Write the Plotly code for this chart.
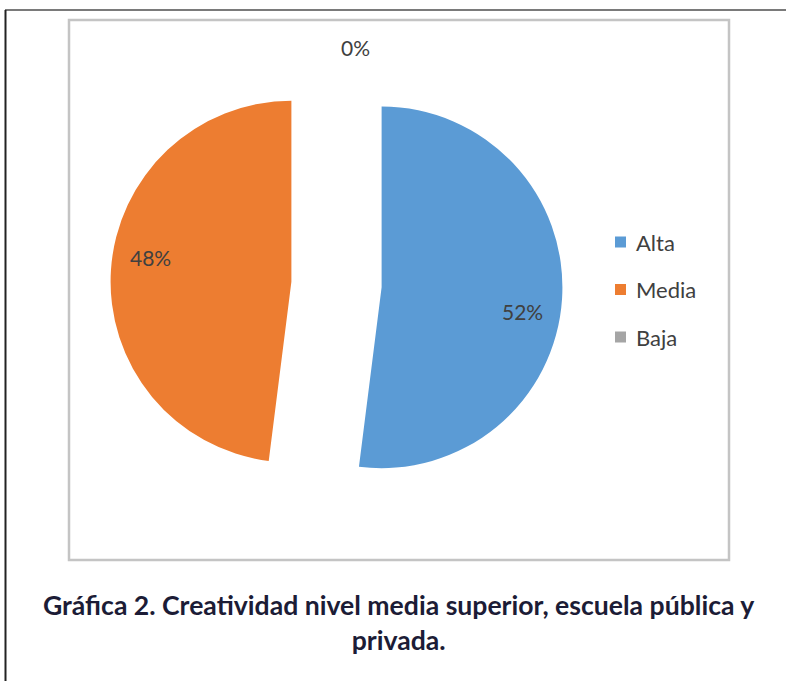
import math
import plotly.graph_objects as go

labels = ["Alta", "Media", "Baja"]
values = [52, 48, 0]
colors = ["#5B9BD5", "#ED7D31", "#A5A5A5"]
pulls = [0.25, 0.25, 0.0]
caption = "Gráfica 2. Creatividad nivel media superior, escuela pública y<br>privada."

W, H = 786, 681
total = sum(values)
texts = [f"{round(100*v/total)}%" for v in values]

# pie box in pixels (center and size); plotly radius = size / (2 + 2*maxpull)
CX, CY, SIZE = 336.5, 284.5, 452
R = SIZE / (2 + 2 * max(pulls))

fig = go.Figure()
fig.add_trace(go.Pie(
    labels=labels, values=values, pull=pulls,
    marker=dict(colors=colors, line=dict(width=0)),
    sort=False, direction="clockwise", rotation=0,
    textinfo="none",
    domain=dict(x=[(CX-SIZE/2)/W, (CX+SIZE/2)/W], y=[(H-CY-SIZE/2)/H, (H-CY+SIZE/2)/H]),
    showlegend=False, hoverinfo="label+percent",
))

shapes = []
annotations = []
# page lines
shapes.append(dict(type="line", xref="paper", yref="paper", x0=5/W, x1=1, y0=1-10/H, y1=1-10/H,
                   line=dict(color="#7a7a7a", width=2)))
shapes.append(dict(type="line", xref="paper", yref="paper", x0=5.5/W, x1=5.5/W, y0=0, y1=1-10/H,
                   line=dict(color="#222222", width=2)))
# chart box
shapes.append(dict(type="rect", xref="paper", yref="paper", x0=69/W, x1=729/W, y0=1-560/H, y1=1-20/H,
                   line=dict(color="#c4c4c4", width=2.5)))

# data labels positioned from slice angles
lab_font = dict(family="Lato", size=21, color="#404040")
cum = 0
for lab, v, t, p in zip(labels, values, texts, pulls):
    a0 = cum / total * 360
    cum += v
    a1 = cum / total * 360
    mid = math.radians((a0 + a1) / 2)
    cx = CX + p * R * math.sin(mid)
    cy = CY - p * R * math.cos(mid)
    if v > 0:
        ang = mid + math.radians(6)
        x = cx + 0.79 * R * math.sin(ang)
        y = cy - 0.79 * R * math.cos(ang)
    else:
        x = cx + 19
        y = cy - 1.31 * R
    annotations.append(dict(x=x/W, y=1-y/H, xref="paper", yref="paper", text=t,
                            showarrow=False, xanchor="center", yanchor="middle", font=lab_font))

# manual legend
for i, (lab, c) in enumerate(zip(labels, colors)):
    yc = 242 + i*47.5
    shapes.append(dict(type="rect", xref="paper", yref="paper", x0=615/W, x1=626/W,
                       y0=1-(yc+5.5)/H, y1=1-(yc-5.5)/H, fillcolor=c, line=dict(width=0)))
    annotations.append(dict(x=634/W, y=1-yc/H, xref="paper", yref="paper", text=lab,
                            xanchor="left", yanchor="middle", showarrow=False,
                            font=dict(family="Lato", size=22, color="#404040")))

annotations.append(dict(x=399/W, y=1-622/H, xref="paper", yref="paper", text=caption,
                        showarrow=False, xanchor="center", yanchor="middle", align="center",
                        font=dict(family="Lato", size=26.6, color="#1c1c36", weight="bold")))

fig.update_layout(width=W, height=H, margin=dict(l=0, r=0, t=0, b=0),
                  paper_bgcolor="white", plot_bgcolor="white",
                  shapes=shapes, annotations=annotations)
fig.write_html("out.html")
